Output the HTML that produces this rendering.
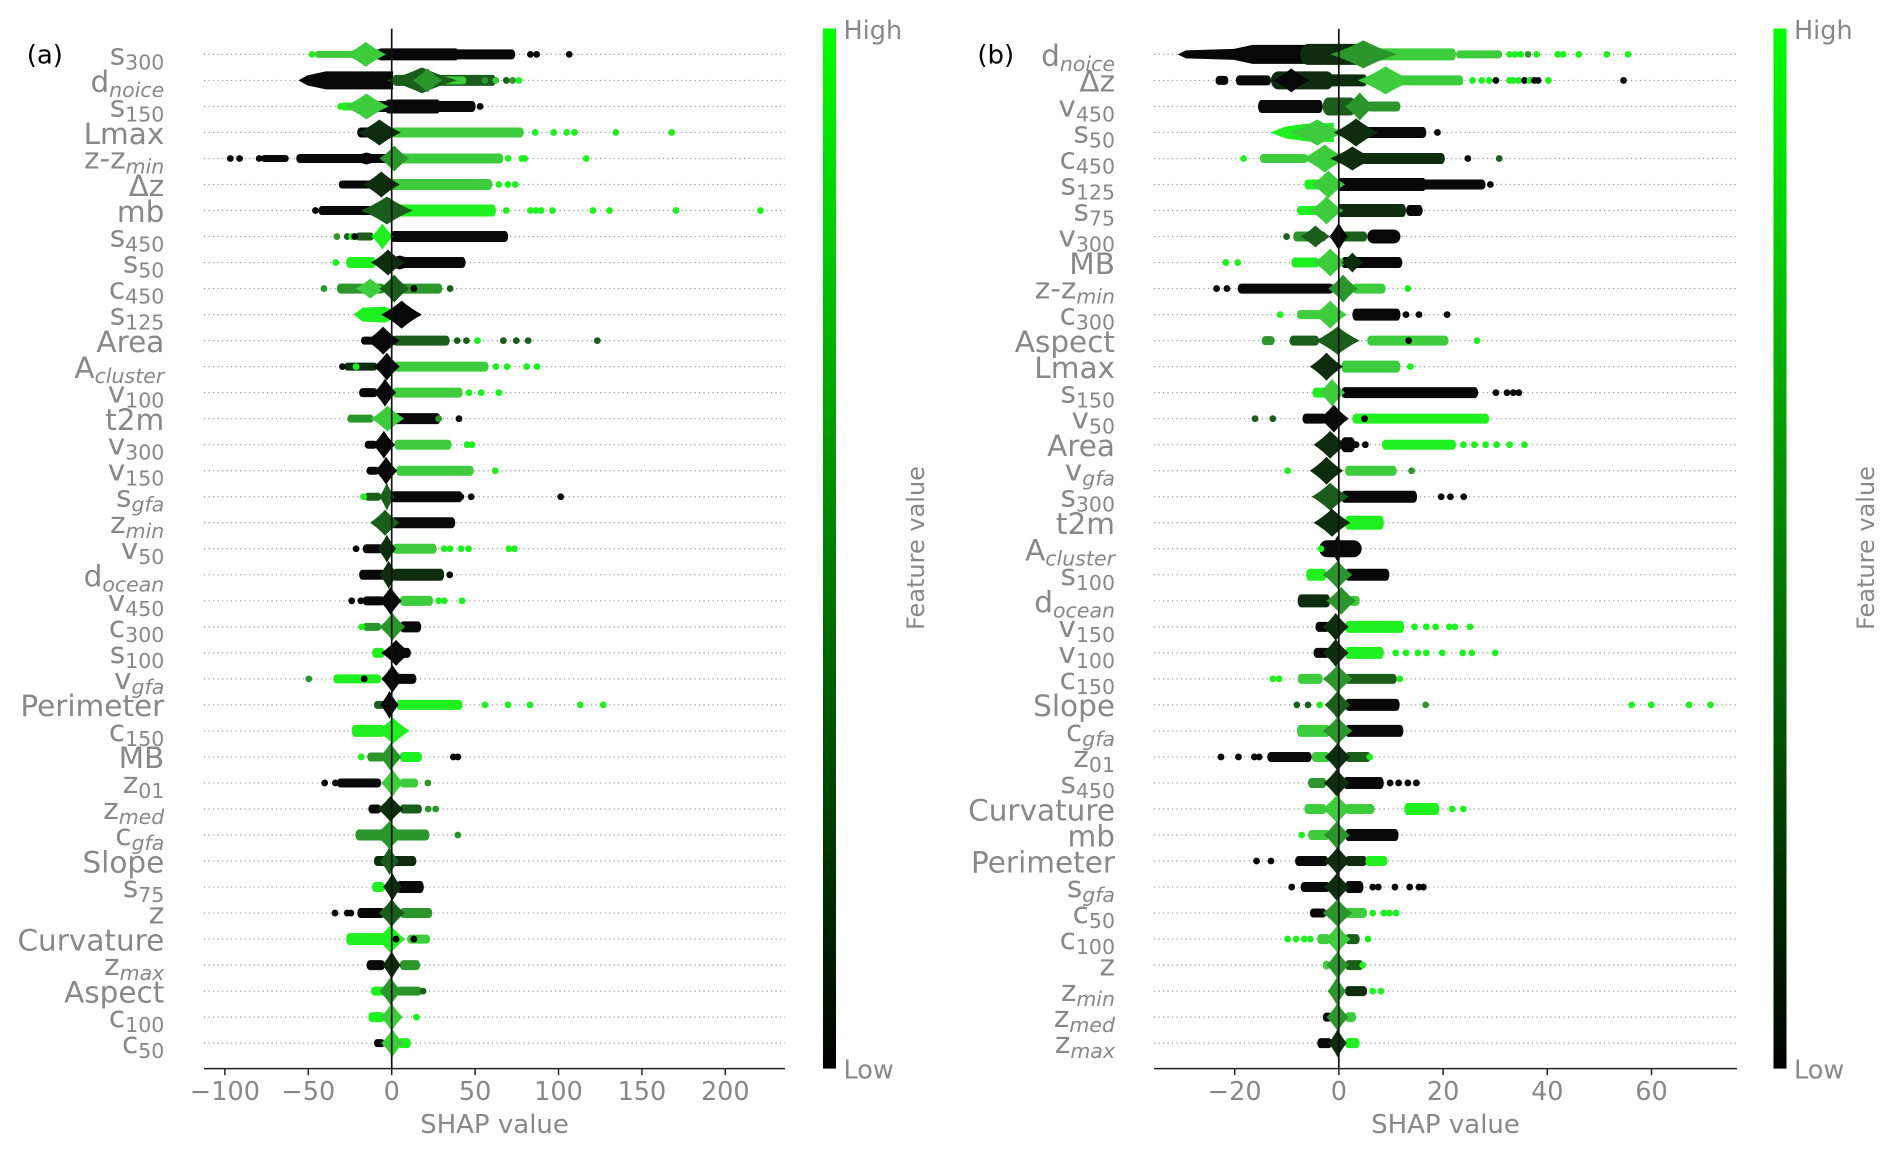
<!DOCTYPE html>
<html><head><meta charset="utf-8"><style>
html,body{margin:0;padding:0;background:#fff;}
body{width:1892px;height:1153px;overflow:hidden;}
svg{display:block;}
.k{fill:#080808}.e{fill:#0e2c0e}.m{fill:#1b5e1b}.n{fill:#2b962b}.g{fill:#3ccc3c}.l{fill:#1ff01f}
.lb{font-family:"DejaVu Sans","Liberation Sans",sans-serif;font-size:29.5px;fill:#888}
.sb{font-size:20.5px}.si{font-size:20.5px;font-style:italic}
.tk{font-family:"DejaVu Sans","Liberation Sans",sans-serif;font-size:25.5px;fill:#888}
.ab{font-family:"DejaVu Sans","Liberation Sans",sans-serif;font-size:26px;fill:#888}
.pl{font-family:"DejaVu Sans","Liberation Sans",sans-serif;font-size:26px;fill:#000}
</style></head><body>
<svg width="1892" height="1153" viewBox="0 0 1892 1153">
<defs>
<ellipse id="d" rx="9.2" ry="3.4"/>
<path id="s" d="M-1 0Q-.44-.44 0-1Q.44-.44 1 0Q.44 .44 0 1Q-.44 .44-1 0Z"/>
<linearGradient id="cb" x1="0" y1="1" x2="0" y2="0">
<stop offset="0" stop-color="#000"/><stop offset="1" stop-color="#00ff00"/>
</linearGradient>
</defs>

<!-- dotted grid -->
<path fill="none" stroke="#999" stroke-width="1.2" stroke-dasharray="1.2 3.3" d="M204 54.4H785M204 80.42H785M204 106.44H785M204 132.46H785M204 158.48H785M204 184.5H785M204 210.52H785M204 236.54H785M204 262.56H785M204 288.58H785M204 314.6H785M204 340.62H785M204 366.64H785M204 392.66H785M204 418.68H785M204 444.7H785M204 470.72H785M204 496.74H785M204 522.76H785M204 548.78H785M204 574.8H785M204 600.82H785M204 626.84H785M204 652.86H785M204 678.88H785M204 704.9H785M204 730.92H785M204 756.94H785M204 782.96H785M204 808.98H785M204 835H785M204 861.02H785M204 887.04H785M204 913.06H785M204 939.08H785M204 965.1H785M204 991.12H785M204 1017.14H785M204 1043.16H785
M1154 54.4H1737M1154 80.42H1737M1154 106.44H1737M1154 132.46H1737M1154 158.48H1737M1154 184.5H1737M1154 210.52H1737M1154 236.54H1737M1154 262.56H1737M1154 288.58H1737M1154 314.6H1737M1154 340.62H1737M1154 366.64H1737M1154 392.66H1737M1154 418.68H1737M1154 444.7H1737M1154 470.72H1737M1154 496.74H1737M1154 522.76H1737M1154 548.78H1737M1154 574.8H1737M1154 600.82H1737M1154 626.84H1737M1154 652.86H1737M1154 678.88H1737M1154 704.9H1737M1154 730.92H1737M1154 756.94H1737M1154 782.96H1737M1154 808.98H1737M1154 835H1737M1154 861.02H1737M1154 887.04H1737M1154 913.06H1737M1154 939.08H1737M1154 965.1H1737M1154 991.12H1737M1154 1017.14H1737M1154 1043.16H1737"/>

<!-- ===== Panel (a) swarms ===== -->
<g transform="translate(200 0) scale(0.36996 1)">
<g transform="translate(0 54.4)">
<rect x="310" y="-3.5" width="110" height="7" rx="9" ry="3.5" class="g"/>
<rect x="470" y="-5" width="382" height="10" rx="9" ry="5" class="k"/>
<rect x="480" y="-6" width="220" height="12" rx="9" ry="6" class="k"/>
<use href="#s" transform="translate(448 0) scale(55 12.5)" class="g"/>
<use href="#d" x="303" class="l"/><use href="#d" x="893" class="k"/><use href="#d" x="910" class="k"/><use href="#d" x="998" class="k"/>
</g>
<g transform="translate(0 80.42)">
<path d="M266 0L290-5L340-9L522-9L522 9L340 9L290 5Z" class="k"/>
<rect x="520" y="-5.5" width="280" height="11" rx="9" ry="5.5" class="m"/>
<rect x="650" y="-4" width="70" height="8" rx="9" ry="4" class="g"/>
<use href="#s" transform="translate(600 0) scale(95 13)" class="m"/>
<use href="#s" transform="translate(615 0) scale(40 12)" class="n"/>
<use href="#d" x="770" class="n"/><use href="#d" x="800" class="g"/><use href="#d" x="828" class="m"/><use href="#d" x="845" class="n"/><use href="#d" x="862" class="l"/>
</g>
<g transform="translate(0 106.44)">
<rect x="380" y="-4" width="50" height="8" rx="9" ry="4" class="l"/>
<rect x="470" y="-5.5" width="275" height="11" rx="9" ry="5.5" class="k"/>
<rect x="500" y="-7" width="150" height="14" rx="9" ry="7" class="k"/>
<use href="#s" transform="translate(450 0) scale(60 13)" class="g"/>
<use href="#d" x="380" class="l"/><use href="#d" x="757" class="k"/>
</g>
<g transform="translate(0 132.46)">
<rect x="425" y="-5" width="55" height="10" rx="9" ry="5" class="k"/>
<rect x="515" y="-5" width="360" height="10" rx="9" ry="5" class="g"/>
<use href="#s" transform="translate(485 0) scale(58 13)" class="e"/>
<use href="#d" x="906" class="l"/><use href="#d" x="956" class="l"/><use href="#d" x="991" class="l"/><use href="#d" x="1012" class="l"/><use href="#d" x="1124" class="l"/><use href="#d" x="1275" class="l"/>
</g>
<g transform="translate(0 158.48)">
<rect x="165" y="-3.5" width="75" height="7" rx="9" ry="3.5" class="k"/>
<rect x="260" y="-4.5" width="250" height="9" rx="9" ry="4.5" class="k"/>
<rect x="530" y="-5" width="290" height="10" rx="9" ry="5" class="g"/>
<use href="#s" transform="translate(450 0) scale(70 6)" class="k"/>
<use href="#s" transform="translate(525 0) scale(40 13)" class="n"/>
<use href="#d" x="82" class="k"/><use href="#d" x="107" class="k"/><use href="#d" x="160" class="k"/><use href="#d" x="833" class="l"/><use href="#d" x="870" class="l"/><use href="#d" x="878" class="l"/><use href="#d" x="1044" class="l"/>
</g>
<g transform="translate(0 184.5)">
<rect x="375" y="-4" width="95" height="8" rx="9" ry="4" class="k"/>
<rect x="515" y="-5.5" width="275" height="11" rx="9" ry="5.5" class="g"/>
<use href="#s" transform="translate(490 0) scale(50 13)" class="e"/>
<use href="#d" x="808" class="l"/><use href="#d" x="832" class="l"/><use href="#d" x="852" class="l"/>
</g>
<g transform="translate(0 210.52)">
<rect x="320" y="-4.5" width="150" height="9" rx="9" ry="4.5" class="k"/>
<rect x="530" y="-6" width="270" height="12" rx="9" ry="6" class="l"/>
<use href="#s" transform="translate(505 0) scale(70 14)" class="m"/>
<use href="#d" x="312" class="k"/><use href="#d" x="828" class="l"/><use href="#d" x="893" class="l"/><use href="#d" x="908" class="l"/><use href="#d" x="922" class="l"/><use href="#d" x="953" class="l"/><use href="#d" x="1062" class="l"/><use href="#d" x="1107" class="l"/><use href="#d" x="1287" class="l"/><use href="#d" x="1515" class="l"/>
</g>
<g transform="translate(0 236.54)">
<rect x="420" y="-4" width="50" height="8" rx="9" ry="4" class="m"/>
<rect x="515" y="-5.5" width="318" height="11" rx="9" ry="5.5" class="k"/>
<use href="#s" transform="translate(493 0) scale(30 13)" class="l"/>
<use href="#d" x="370" class="n"/><use href="#d" x="398" class="m"/><use href="#d" x="410" class="l"/><use href="#d" x="418" class="k"/>
</g>
<g transform="translate(0 262.56)">
<rect x="395" y="-5.5" width="80" height="11" rx="9" ry="5.5" class="l"/>
<rect x="515" y="-5.5" width="203" height="11" rx="9" ry="5.5" class="k"/>
<use href="#s" transform="translate(540 0) scale(80 7)" class="k"/>
<use href="#s" transform="translate(508 0) scale(45 13)" class="e"/>
<use href="#d" x="367" class="l"/>
</g>
<g transform="translate(0 288.58)">
<rect x="370" y="-5" width="130" height="10" rx="9" ry="5" class="n"/>
<rect x="540" y="-5" width="115" height="10" rx="9" ry="5" class="n"/>
<use href="#s" transform="translate(460 0) scale(40 10)" class="g"/>
<use href="#s" transform="translate(525 0) scale(40 14)" class="m"/>
<use href="#d" x="335" class="n"/><use href="#d" x="578" class="k"/><use href="#d" x="676" class="m"/>
</g>
<g transform="translate(0 314.6)">
<path d="M415 0L440-7L500-8L518-5L518 5L500 8L440 7Z" class="l"/>
<use href="#s" transform="translate(545 0) scale(55 14)" class="k"/>
</g>
<g transform="translate(0 340.62)">
<rect x="435" y="-4" width="45" height="8" rx="9" ry="4" class="k"/>
<rect x="520" y="-5" width="155" height="10" rx="9" ry="5" class="m"/>
<use href="#s" transform="translate(495 0) scale(45 14)" class="k"/>
<use href="#d" x="695" class="m"/><use href="#d" x="720" class="m"/><use href="#d" x="750" class="l"/><use href="#d" x="820" class="m"/><use href="#d" x="855" class="m"/><use href="#d" x="887" class="m"/><use href="#d" x="1074" class="m"/>
</g>
<g transform="translate(0 366.64)">
<rect x="390" y="-4" width="90" height="8" rx="9" ry="4" class="e"/>
<rect x="520" y="-5" width="260" height="10" rx="9" ry="5" class="g"/>
<use href="#s" transform="translate(505 0) scale(35 14)" class="k"/>
<use href="#d" x="385" class="k"/><use href="#d" x="422" class="l"/><use href="#d" x="800" class="l"/><use href="#d" x="830" class="l"/><use href="#d" x="883" class="l"/><use href="#d" x="911" class="l"/>
</g>
<g transform="translate(0 392.66)">
<rect x="430" y="-4.5" width="50" height="9" rx="9" ry="4.5" class="k"/>
<rect x="520" y="-5" width="190" height="10" rx="9" ry="5" class="g"/>
<use href="#s" transform="translate(500 0) scale(30 14)" class="k"/>
<use href="#d" x="727" class="l"/><use href="#d" x="760" class="l"/><use href="#d" x="808" class="l"/>
</g>
<g transform="translate(0 418.68)">
<rect x="398" y="-4" width="72" height="8" rx="9" ry="4" class="n"/>
<rect x="520" y="-5.5" width="130" height="11" rx="9" ry="5.5" class="k"/>
<use href="#s" transform="translate(507 0) scale(45 13)" class="g"/>
<use href="#d" x="645" class="n"/><use href="#d" x="700" class="k"/>
</g>
<g transform="translate(0 444.7)">
<rect x="445" y="-4" width="35" height="8" rx="9" ry="4" class="k"/>
<rect x="525" y="-5" width="155" height="10" rx="9" ry="5" class="g"/>
<use href="#s" transform="translate(497 0) scale(30 14)" class="k"/>
<use href="#d" x="722" class="l"/><use href="#d" x="735" class="l"/>
</g>
<g transform="translate(0 470.72)">
<rect x="450" y="-4" width="35" height="8" rx="9" ry="4" class="k"/>
<rect x="530" y="-5" width="210" height="10" rx="9" ry="5" class="g"/>
<use href="#s" transform="translate(503 0) scale(30 14)" class="k"/>
<use href="#d" x="798" class="l"/>
</g>
<g transform="translate(0 496.74)">
<rect x="445" y="-4" width="45" height="8" rx="9" ry="4" class="m"/>
<rect x="515" y="-5.5" width="195" height="11" rx="9" ry="5.5" class="k"/>
<use href="#s" transform="translate(505 0) scale(20 14)" class="m"/>
<use href="#d" x="442" class="l"/><use href="#d" x="692" class="k"/><use href="#d" x="705" class="k"/><use href="#d" x="733" class="k"/><use href="#d" x="975" class="k"/>
</g>
<g transform="translate(0 522.76)">
<rect x="515" y="-5.5" width="175" height="11" rx="9" ry="5.5" class="k"/>
<use href="#s" transform="translate(500 0) scale(40 13)" class="m"/>
</g>
<g transform="translate(0 548.78)">
<rect x="440" y="-4.5" width="55" height="9" rx="9" ry="4.5" class="k"/>
<rect x="520" y="-5" width="120" height="10" rx="9" ry="5" class="g"/>
<use href="#s" transform="translate(505 0) scale(25 14)" class="e"/>
<use href="#d" x="422" class="k"/><use href="#d" x="660" class="l"/><use href="#d" x="676" class="l"/><use href="#d" x="706" class="l"/><use href="#d" x="726" class="l"/><use href="#d" x="835" class="l"/><use href="#d" x="850" class="l"/>
</g>
<g transform="translate(0 574.8)">
<rect x="430" y="-5" width="70" height="10" rx="9" ry="5" class="k"/>
<rect x="520" y="-6" width="140" height="12" rx="9" ry="6" class="e"/>
<use href="#s" transform="translate(510 0) scale(25 14)" class="e"/>
<use href="#d" x="675" class="k"/>
</g>
<g transform="translate(0 600.82)">
<rect x="440" y="-4.5" width="60" height="9" rx="9" ry="4.5" class="k"/>
<rect x="540" y="-5" width="90" height="10" rx="9" ry="5" class="g"/>
<use href="#s" transform="translate(515 0) scale(30 14)" class="k"/>
<use href="#d" x="410" class="k"/><use href="#d" x="435" class="k"/><use href="#d" x="645" class="l"/><use href="#d" x="660" class="l"/><use href="#d" x="708" class="l"/>
</g>
<g transform="translate(0 626.84)">
<rect x="440" y="-4" width="50" height="8" rx="9" ry="4" class="n"/>
<rect x="540" y="-5.5" width="58" height="11" rx="9" ry="5.5" class="k"/>
<use href="#s" transform="translate(520 0) scale(35 14)" class="n"/>
<use href="#d" x="437" class="l"/>
</g>
<g transform="translate(0 652.86)">
<rect x="465" y="-5" width="35" height="10" rx="9" ry="5" class="l"/>
<rect x="540" y="-5" width="30" height="10" rx="9" ry="5" class="k"/>
<use href="#s" transform="translate(530 0) scale(40 13)" class="k"/>
</g>
<g transform="translate(0 678.88)">
<rect x="360" y="-4.5" width="130" height="9" rx="9" ry="4.5" class="l"/>
<rect x="530" y="-5" width="55" height="10" rx="9" ry="5" class="k"/>
<use href="#s" transform="translate(520 0) scale(30 14)" class="k"/>
<use href="#d" x="294" class="n"/><use href="#d" x="444" class="k"/>
</g>
<g transform="translate(0 704.9)">
<rect x="470" y="-4" width="30" height="8" rx="9" ry="4" class="m"/>
<rect x="530" y="-5" width="180" height="10" rx="9" ry="5" class="l"/>
<use href="#s" transform="translate(512 0) scale(25 14)" class="k"/>
<use href="#d" x="770" class="l"/><use href="#d" x="833" class="l"/><use href="#d" x="892" class="l"/><use href="#d" x="1028" class="l"/><use href="#d" x="1090" class="l"/>
</g>
<g transform="translate(0 730.92)">
<rect x="410" y="-6" width="90" height="12" rx="9" ry="6" class="l"/>
<use href="#s" transform="translate(522 0) scale(45 13)" class="l"/>
</g>
<g transform="translate(0 756.94)">
<rect x="452" y="-4.5" width="48" height="9" rx="9" ry="4.5" class="n"/>
<rect x="540" y="-5" width="60" height="10" rx="9" ry="5" class="l"/>
<use href="#s" transform="translate(515 0) scale(30 14)" class="n"/>
<use href="#d" x="436" class="l"/><use href="#d" x="685" class="k"/><use href="#d" x="697" class="k"/>
</g>
<g transform="translate(0 782.96)">
<rect x="370" y="-4.5" width="120" height="9" rx="9" ry="4.5" class="k"/>
<rect x="540" y="-4.5" width="50" height="9" rx="9" ry="4.5" class="g"/>
<use href="#s" transform="translate(520 0) scale(30 14)" class="g"/>
<use href="#d" x="337" class="k"/><use href="#d" x="366" class="k"/><use href="#d" x="616" class="n"/>
</g>
<g transform="translate(0 808.98)">
<rect x="455" y="-4.5" width="35" height="9" rx="9" ry="4.5" class="k"/>
<rect x="540" y="-4.5" width="60" height="9" rx="9" ry="4.5" class="m"/>
<use href="#s" transform="translate(515 0) scale(35 13)" class="e"/>
<use href="#d" x="617" class="n"/><use href="#d" x="637" class="n"/>
</g>
<g transform="translate(0 835)">
<rect x="420" y="-5.5" width="200" height="11" rx="9" ry="5.5" class="n"/>
<use href="#s" transform="translate(512 0) scale(40 14)" class="n"/>
<use href="#d" x="697" class="n"/>
</g>
<g transform="translate(0 861.02)">
<rect x="470" y="-5" width="115" height="10" rx="9" ry="5" class="e"/>
<use href="#s" transform="translate(512 0) scale(25 14)" class="m"/>
</g>
<g transform="translate(0 887.04)">
<rect x="465" y="-5" width="35" height="10" rx="9" ry="5" class="l"/>
<rect x="530" y="-6" width="75" height="12" rx="9" ry="6" class="k"/>
<use href="#s" transform="translate(520 0) scale(25 14)" class="e"/>
</g>
<g transform="translate(0 913.06)">
<rect x="425" y="-5" width="75" height="10" rx="9" ry="5" class="k"/>
<rect x="540" y="-5" width="88" height="10" rx="9" ry="5" class="n"/>
<use href="#s" transform="translate(518 0) scale(35 14)" class="m"/>
<use href="#d" x="365" class="k"/><use href="#d" x="398" class="k"/><use href="#d" x="408" class="k"/>
</g>
<g transform="translate(0 939.08)">
<rect x="395" y="-6" width="105" height="12" rx="9" ry="6" class="l"/>
<rect x="560" y="-4.5" width="62" height="9" rx="9" ry="4.5" class="g"/>
<use href="#s" transform="translate(515 0) scale(40 14)" class="l"/>
<use href="#d" x="530" class="k"/><use href="#d" x="578" class="k"/>
</g>
<g transform="translate(0 965.1)">
<rect x="450" y="-5" width="50" height="10" rx="9" ry="5" class="k"/>
<rect x="540" y="-5" width="55" height="10" rx="9" ry="5" class="n"/>
<use href="#s" transform="translate(518 0) scale(25 14)" class="e"/>
</g>
<g transform="translate(0 991.12)">
<rect x="462" y="-4.5" width="38" height="9" rx="9" ry="4.5" class="l"/>
<rect x="530" y="-4.5" width="70" height="9" rx="9" ry="4.5" class="n"/>
<use href="#s" transform="translate(515 0) scale(30 14)" class="n"/>
<use href="#d" x="603" class="m"/>
</g>
<g transform="translate(0 1017.14)">
<rect x="455" y="-5" width="45" height="10" rx="9" ry="5" class="l"/>
<use href="#s" transform="translate(518 0) scale(30 14)" class="g"/>
<use href="#d" x="585" class="l"/>
</g>
<g transform="translate(0 1043.16)">
<rect x="470" y="-4" width="30" height="8" rx="9" ry="4" class="k"/>
<rect x="535" y="-5" width="35" height="10" rx="9" ry="5" class="l"/>
<use href="#s" transform="translate(520 0) scale(30 14)" class="g"/>
</g>
</g>

<!-- ===== Panel (b) swarms ===== -->
<g transform="translate(1160 0) scale(0.36996 1)">
<g transform="translate(0 54.4)">
<path d="M48 0L70-4L200-5.5L250-9.5L485-9.5L485 9.5L250 9.5L200 5.5L70 4Z" class="k"/>
<rect x="380" y="-10.5" width="180" height="21" rx="20" ry="10.5" class="e"/>
<rect x="560" y="-6" width="240" height="12" rx="9" ry="6" class="g"/>
<rect x="800" y="-4" width="125" height="8" rx="9" ry="4" class="g"/>
<use href="#s" transform="translate(550 0) scale(90 14)" class="n"/>
<use href="#d" x="945" class="l"/><use href="#d" x="960" class="l"/><use href="#d" x="975" class="l"/><use href="#d" x="995" class="n"/><use href="#d" x="1018" class="l"/><use href="#d" x="1075" class="l"/><use href="#d" x="1090" class="l"/><use href="#d" x="1132" class="l"/><use href="#d" x="1208" class="l"/><use href="#d" x="1265" class="l"/>
</g>
<g transform="translate(0 80.42)">
<rect x="150" y="-4.5" width="35" height="9" rx="9" ry="4.5" class="k"/>
<rect x="205" y="-5" width="95" height="10" rx="9" ry="5" class="k"/>
<rect x="300" y="-6" width="260" height="12" rx="9" ry="6" class="e"/>
<rect x="300" y="-9" width="170" height="18" rx="20" ry="9" class="e"/>
<use href="#s" transform="translate(355 0) scale(50 12)" class="k"/>
<rect x="640" y="-5" width="180" height="10" rx="9" ry="5" class="g"/>
<use href="#s" transform="translate(610 0) scale(75 14)" class="g"/>
<use href="#d" x="845" class="l"/><use href="#d" x="870" class="l"/><use href="#d" x="890" class="l"/><use href="#d" x="908" class="k"/><use href="#d" x="945" class="l"/><use href="#d" x="955" class="l"/><use href="#d" x="968" class="l"/><use href="#d" x="985" class="k"/><use href="#d" x="1000" class="l"/><use href="#d" x="1012" class="k"/><use href="#d" x="1022" class="k"/><use href="#d" x="1050" class="l"/><use href="#d" x="1253" class="k"/>
</g>
<g transform="translate(0 106.44)">
<rect x="265" y="-6.5" width="175" height="13" rx="9" ry="6.5" class="k"/>
<rect x="560" y="-5" width="90" height="10" rx="9" ry="5" class="n"/>
<rect x="440" y="-9" width="90" height="18" rx="15" ry="9" class="m"/>
<use href="#s" transform="translate(540 0) scale(40 14)" class="n"/>
</g>
<g transform="translate(0 132.46)">
<rect x="540" y="-5.5" width="180" height="11" rx="9" ry="5.5" class="k"/>
<path d="M298 0L340-6L400-9L470-9.5L470 9.5L400 9L340 6Z" class="l"/>
<use href="#s" transform="translate(425 0) scale(75 13)" class="g"/>
<use href="#s" transform="translate(530 0) scale(60 14)" class="e"/>
<use href="#d" x="750" class="k"/>
</g>
<g transform="translate(0 158.48)">
<rect x="270" y="-4.5" width="130" height="9" rx="9" ry="4.5" class="g"/>
<rect x="540" y="-5.5" width="230" height="11" rx="9" ry="5.5" class="e"/>
<use href="#s" transform="translate(445 0) scale(60 14)" class="g"/>
<use href="#s" transform="translate(520 0) scale(60 12)" class="e"/>
<use href="#d" x="226" class="l"/><use href="#d" x="832" class="k"/><use href="#d" x="917" class="m"/>
</g>
<g transform="translate(0 184.5)">
<rect x="390" y="-5" width="50" height="10" rx="9" ry="5" class="l"/>
<rect x="480" y="-5" width="400" height="10" rx="9" ry="5" class="k"/>
<rect x="480" y="-6.5" width="240" height="13" rx="9" ry="6.5" class="k"/>
<use href="#s" transform="translate(455 0) scale(45 14)" class="g"/>
<use href="#d" x="893" class="k"/>
</g>
<g transform="translate(0 210.52)">
<rect x="370" y="-4.5" width="60" height="9" rx="9" ry="4.5" class="l"/>
<rect x="480" y="-6.5" width="185" height="13" rx="9" ry="6.5" class="e"/>
<rect x="665" y="-5.5" width="45" height="11" rx="9" ry="5.5" class="k"/>
<use href="#s" transform="translate(450 0) scale(45 14)" class="g"/>
</g>
<g transform="translate(0 236.54)">
<rect x="360" y="-5" width="90" height="10" rx="9" ry="5" class="n"/>
<rect x="490" y="-5" width="70" height="10" rx="9" ry="5" class="m"/>
<rect x="560" y="-7" width="90" height="14" rx="18" ry="7" class="k"/>
<use href="#s" transform="translate(420 0) scale(40 11)" class="m"/>
<use href="#s" transform="translate(483 0) scale(25 14)" class="k"/>
<use href="#d" x="342" class="m"/>
</g>
<g transform="translate(0 262.56)">
<rect x="355" y="-5" width="75" height="10" rx="9" ry="5" class="l"/>
<rect x="490" y="-5.5" width="165" height="11" rx="9" ry="5.5" class="k"/>
<use href="#s" transform="translate(460 0) scale(45 14)" class="g"/>
<use href="#s" transform="translate(520 0) scale(30 10)" class="e"/>
<use href="#d" x="178" class="l"/><use href="#d" x="210" class="l"/>
</g>
<g transform="translate(0 288.58)">
<rect x="210" y="-5" width="260" height="10" rx="9" ry="5" class="k"/>
<rect x="520" y="-5" width="90" height="10" rx="9" ry="5" class="g"/>
<use href="#s" transform="translate(495 0) scale(40 14)" class="n"/>
<use href="#d" x="153" class="k"/><use href="#d" x="181" class="k"/><use href="#d" x="670" class="l"/>
</g>
<g transform="translate(0 314.6)">
<rect x="370" y="-4.5" width="70" height="9" rx="9" ry="4.5" class="g"/>
<rect x="520" y="-6" width="130" height="12" rx="9" ry="6" class="k"/>
<use href="#s" transform="translate(460 0) scale(45 14)" class="g"/>
<use href="#d" x="325" class="l"/><use href="#d" x="665" class="k"/><use href="#d" x="700" class="k"/><use href="#d" x="776" class="k"/>
</g>
<g transform="translate(0 340.62)">
<rect x="275" y="-4.5" width="35" height="9" rx="9" ry="4.5" class="n"/>
<rect x="350" y="-5" width="80" height="10" rx="9" ry="5" class="m"/>
<rect x="560" y="-5" width="220" height="10" rx="9" ry="5" class="g"/>
<use href="#s" transform="translate(480 0) scale(60 14)" class="m"/>
<use href="#d" x="672" class="k"/><use href="#d" x="857" class="l"/>
</g>
<g transform="translate(0 366.64)">
<rect x="490" y="-6" width="160" height="12" rx="9" ry="6" class="g"/>
<use href="#s" transform="translate(450 0) scale(45 14)" class="e"/>
<use href="#d" x="677" class="l"/>
</g>
<g transform="translate(0 392.66)">
<rect x="412" y="-5" width="48" height="10" rx="9" ry="5" class="l"/>
<rect x="490" y="-5.5" width="370" height="11" rx="9" ry="5.5" class="k"/>
<use href="#s" transform="translate(465 0) scale(35 14)" class="g"/>
<use href="#d" x="908" class="k"/><use href="#d" x="938" class="k"/><use href="#d" x="955" class="k"/><use href="#d" x="970" class="k"/>
</g>
<g transform="translate(0 418.68)">
<rect x="385" y="-5" width="65" height="10" rx="9" ry="5" class="k"/>
<rect x="520" y="-5" width="370" height="10" rx="9" ry="5" class="l"/>
<use href="#s" transform="translate(470 0) scale(40 14)" class="k"/>
<use href="#d" x="257" class="m"/><use href="#d" x="305" class="m"/><use href="#d" x="553" class="k"/>
</g>
<g transform="translate(0 444.7)">
<rect x="600" y="-5" width="200" height="10" rx="9" ry="5" class="l"/>
<use href="#s" transform="translate(460 0) scale(45 14)" class="e"/>
<rect x="488" y="-7.5" width="40" height="15" rx="12" ry="7.5" class="k"/>
<use href="#d" x="530" class="k"/><use href="#d" x="555" class="k"/><use href="#d" x="820" class="l"/><use href="#d" x="850" class="l"/><use href="#d" x="880" class="l"/><use href="#d" x="910" class="l"/><use href="#d" x="945" class="l"/><use href="#d" x="985" class="l"/>
</g>
<g transform="translate(0 470.72)">
<rect x="500" y="-5" width="140" height="10" rx="9" ry="5" class="g"/>
<use href="#s" transform="translate(450 0) scale(45 14)" class="e"/>
<use href="#d" x="345" class="l"/><use href="#d" x="680" class="n"/>
</g>
<g transform="translate(0 496.74)">
<rect x="490" y="-6" width="205" height="12" rx="9" ry="6" class="k"/>
<use href="#s" transform="translate(460 0) scale(50 14)" class="m"/>
<use href="#d" x="760" class="k"/><use href="#d" x="785" class="k"/><use href="#d" x="821" class="k"/>
</g>
<g transform="translate(0 522.76)">
<rect x="500" y="-7" width="105" height="14" rx="9" ry="7" class="l"/>
<use href="#s" transform="translate(465 0) scale(50 14)" class="e"/>
</g>
<g transform="translate(0 548.78)">
<rect x="430" y="-8.5" width="115" height="17" rx="22" ry="8.5" class="k"/>
<use href="#s" transform="translate(480 0) scale(25 13)" class="k"/>
<use href="#d" x="435" class="l"/>
</g>
<g transform="translate(0 574.8)">
<rect x="395" y="-6" width="55" height="12" rx="9" ry="6" class="l"/>
<rect x="500" y="-6" width="120" height="12" rx="9" ry="6" class="k"/>
<use href="#s" transform="translate(480 0) scale(40 14)" class="n"/>
</g>
<g transform="translate(0 600.82)">
<rect x="372" y="-6.5" width="88" height="13" rx="9" ry="6.5" class="e"/>
<rect x="510" y="-5" width="30" height="10" rx="9" ry="5" class="g"/>
<use href="#s" transform="translate(490 0) scale(40 14)" class="n"/>
</g>
<g transform="translate(0 626.84)">
<rect x="420" y="-5" width="40" height="10" rx="9" ry="5" class="k"/>
<rect x="500" y="-6" width="160" height="12" rx="9" ry="6" class="l"/>
<use href="#s" transform="translate(475 0) scale(35 14)" class="e"/>
<use href="#d" x="688" class="l"/><use href="#d" x="720" class="l"/><use href="#d" x="745" class="l"/><use href="#d" x="782" class="l"/><use href="#d" x="797" class="l"/><use href="#d" x="838" class="l"/>
</g>
<g transform="translate(0 652.86)">
<rect x="415" y="-5" width="45" height="10" rx="9" ry="5" class="k"/>
<rect x="500" y="-6" width="105" height="12" rx="9" ry="6" class="l"/>
<use href="#s" transform="translate(475 0) scale(35 14)" class="e"/>
<use href="#d" x="637" class="l"/><use href="#d" x="665" class="l"/><use href="#d" x="697" class="l"/><use href="#d" x="720" class="l"/><use href="#d" x="763" class="l"/><use href="#d" x="818" class="l"/><use href="#d" x="843" class="l"/><use href="#d" x="906" class="l"/>
</g>
<g transform="translate(0 678.88)">
<rect x="372" y="-5" width="68" height="10" rx="9" ry="5" class="g"/>
<rect x="500" y="-5" width="140" height="10" rx="9" ry="5" class="m"/>
<use href="#s" transform="translate(480 0) scale(40 14)" class="n"/>
<use href="#d" x="305" class="l"/><use href="#d" x="322" class="l"/><use href="#d" x="648" class="l"/>
</g>
<g transform="translate(0 704.9)">
<rect x="500" y="-6" width="148" height="12" rx="9" ry="6" class="k"/>
<use href="#s" transform="translate(480 0) scale(35 14)" class="m"/>
<use href="#d" x="370" class="m"/><use href="#d" x="400" class="m"/><use href="#d" x="432" class="l"/><use href="#d" x="718" class="n"/><use href="#d" x="1275" class="l"/><use href="#d" x="1328" class="l"/><use href="#d" x="1430" class="l"/><use href="#d" x="1488" class="l"/>
</g>
<g transform="translate(0 730.92)">
<rect x="370" y="-6" width="90" height="12" rx="9" ry="6" class="g"/>
<rect x="500" y="-6" width="158" height="12" rx="9" ry="6" class="k"/>
<use href="#s" transform="translate(480 0) scale(40 14)" class="n"/>
</g>
<g transform="translate(0 756.94)">
<rect x="290" y="-5" width="120" height="10" rx="9" ry="5" class="k"/>
<rect x="410" y="-5" width="50" height="10" rx="9" ry="5" class="g"/>
<rect x="500" y="-5" width="70" height="10" rx="9" ry="5" class="m"/>
<use href="#s" transform="translate(480 0) scale(35 14)" class="e"/>
<use href="#d" x="165" class="k"/><use href="#d" x="212" class="k"/><use href="#d" x="255" class="k"/><use href="#d" x="268" class="k"/><use href="#d" x="567" class="l"/>
</g>
<g transform="translate(0 782.96)">
<rect x="400" y="-5" width="50" height="10" rx="9" ry="5" class="n"/>
<rect x="495" y="-6" width="110" height="12" rx="9" ry="6" class="k"/>
<use href="#s" transform="translate(478 0) scale(35 14)" class="e"/>
<use href="#d" x="622" class="k"/><use href="#d" x="645" class="k"/><use href="#d" x="670" class="k"/><use href="#d" x="693" class="k"/>
</g>
<g transform="translate(0 808.98)">
<rect x="390" y="-5" width="60" height="10" rx="9" ry="5" class="g"/>
<rect x="500" y="-5" width="80" height="10" rx="9" ry="5" class="g"/>
<rect x="660" y="-6" width="95" height="12" rx="9" ry="6" class="l"/>
<use href="#s" transform="translate(478 0) scale(40 14)" class="g"/>
<use href="#d" x="790" class="l"/><use href="#d" x="820" class="l"/>
</g>
<g transform="translate(0 835)">
<rect x="400" y="-5" width="60" height="10" rx="9" ry="5" class="g"/>
<rect x="500" y="-6" width="145" height="12" rx="9" ry="6" class="k"/>
<use href="#s" transform="translate(478 0) scale(35 14)" class="n"/>
<use href="#d" x="383" class="l"/>
</g>
<g transform="translate(0 861.02)">
<rect x="365" y="-5" width="90" height="10" rx="9" ry="5" class="k"/>
<rect x="500" y="-5" width="60" height="10" rx="9" ry="5" class="e"/>
<rect x="555" y="-5" width="60" height="10" rx="9" ry="5" class="l"/>
<use href="#s" transform="translate(480 0) scale(35 14)" class="e"/>
<use href="#d" x="261" class="k"/><use href="#d" x="300" class="k"/>
</g>
<g transform="translate(0 887.04)">
<rect x="380" y="-5" width="80" height="10" rx="9" ry="5" class="k"/>
<rect x="500" y="-6" width="50" height="12" rx="9" ry="6" class="k"/>
<use href="#s" transform="translate(478 0) scale(35 14)" class="e"/>
<use href="#d" x="356" class="k"/><use href="#d" x="575" class="k"/><use href="#d" x="590" class="k"/><use href="#d" x="635" class="k"/><use href="#d" x="675" class="k"/><use href="#d" x="700" class="k"/><use href="#d" x="712" class="k"/>
</g>
<g transform="translate(0 913.06)">
<rect x="405" y="-4.5" width="45" height="9" rx="9" ry="4.5" class="k"/>
<rect x="500" y="-5" width="60" height="10" rx="9" ry="5" class="g"/>
<use href="#s" transform="translate(480 0) scale(40 14)" class="n"/>
<use href="#d" x="575" class="l"/><use href="#d" x="605" class="l"/><use href="#d" x="620" class="l"/><use href="#d" x="638" class="l"/>
</g>
<g transform="translate(0 939.08)">
<rect x="425" y="-5" width="35" height="10" rx="9" ry="5" class="g"/>
<rect x="500" y="-5" width="40" height="10" rx="9" ry="5" class="m"/>
<use href="#s" transform="translate(480 0) scale(35 14)" class="g"/>
<use href="#d" x="345" class="l"/><use href="#d" x="368" class="l"/><use href="#d" x="390" class="l"/><use href="#d" x="406" class="l"/><use href="#d" x="562" class="l"/>
</g>
<g transform="translate(0 965.1)">
<rect x="440" y="-4.5" width="20" height="9" rx="9" ry="4.5" class="g"/>
<rect x="500" y="-5" width="50" height="10" rx="9" ry="5" class="m"/>
<use href="#s" transform="translate(480 0) scale(30 14)" class="n"/>
<use href="#d" x="548" class="l"/>
</g>
<g transform="translate(0 991.12)">
<rect x="500" y="-5" width="60" height="10" rx="9" ry="5" class="e"/>
<use href="#s" transform="translate(478 0) scale(25 14)" class="n"/>
<use href="#d" x="575" class="l"/><use href="#d" x="597" class="l"/>
</g>
<g transform="translate(0 1017.14)">
<rect x="440" y="-4.5" width="25" height="9" rx="9" ry="4.5" class="k"/>
<rect x="500" y="-5" width="30" height="10" rx="9" ry="5" class="g"/>
<use href="#s" transform="translate(480 0) scale(30 14)" class="n"/>
</g>
<g transform="translate(0 1043.16)">
<rect x="425" y="-5" width="40" height="10" rx="9" ry="5" class="k"/>
<rect x="500" y="-5" width="40" height="10" rx="9" ry="5" class="l"/>
<use href="#s" transform="translate(480 0) scale(25 14)" class="e"/>
</g>
</g>

<!-- zero lines -->
<line x1="391.7" y1="28.7" x2="391.7" y2="1068.6" stroke="#111" stroke-width="1.7"/>
<line x1="1338.8" y1="28.7" x2="1338.8" y2="1068.6" stroke="#111" stroke-width="1.7"/>

<!-- bottom axes -->
<g stroke="#222" stroke-width="1.5">
<line x1="204" y1="1068.6" x2="785" y2="1068.6"/>
<line x1="1154" y1="1068.6" x2="1737" y2="1068.6"/>
<path d="M224.9 1068.6v6.5M308.3 1068.6v6.5M391.7 1068.6v6.5M475.1 1068.6v6.5M558.5 1068.6v6.5M641.9 1068.6v6.5M725.3 1068.6v6.5M1234.7 1068.6v6.5M1338.9 1068.6v6.5M1443.1 1068.6v6.5M1547.3 1068.6v6.5M1651.5 1068.6v6.5" fill="none"/>
</g>
<g class="tk" text-anchor="middle">
<text x="224.9" y="1100">−100</text><text x="308.3" y="1100">−50</text><text x="391.7" y="1100">0</text><text x="475.1" y="1100">50</text><text x="558.5" y="1100">100</text><text x="641.9" y="1100">150</text><text x="725.3" y="1100">200</text>
<text x="1234.7" y="1100">−20</text><text x="1338.9" y="1100">0</text><text x="1443.1" y="1100">20</text><text x="1547.3" y="1100">40</text><text x="1651.5" y="1100">60</text>
</g>
<g class="ab" text-anchor="middle">
<text x="494.5" y="1133">SHAP value</text>
<text x="1445.5" y="1133">SHAP value</text>
</g>

<!-- colorbars -->
<rect x="823" y="28.5" width="13" height="1040.1" fill="url(#cb)"/>
<rect x="1773.5" y="28.5" width="13" height="1040.1" fill="url(#cb)"/>
<g class="tk">
<text x="843.5" y="39">High</text><text x="843.5" y="1078.5">Low</text>
<text x="1794" y="39">High</text><text x="1794" y="1078.5">Low</text>
</g>
<g class="tk" style="font-size:24px" text-anchor="middle">
<text transform="translate(924 548) rotate(-90)">Feature value</text>
<text transform="translate(1874 548) rotate(-90)">Feature value</text>
</g>

<!-- panel letters -->
<text class="pl" x="26.7" y="63.3">(a)</text>
<text class="pl" x="977.4" y="63.3">(b)</text>

<!-- labels panel (a) -->
<g class="lb" text-anchor="end">
<text x="164.3" y="64.4">s<tspan dy="5" class="sb">300</tspan></text>
<text x="164.3" y="91.9">d<tspan dy="5" class="si">noice</tspan></text>
<text x="164.3" y="116.4">s<tspan dy="5" class="sb">150</tspan></text>
<text x="164.3" y="143.8">Lmax</text>
<text x="164.3" y="168.5">z-z<tspan dy="5" class="si">min</tspan></text>
<text x="164.3" y="195.8">Δz</text>
<text x="164.3" y="221.8">mb</text>
<text x="164.3" y="246.5">s<tspan dy="5" class="sb">450</tspan></text>
<text x="164.3" y="272.6">s<tspan dy="5" class="sb">50</tspan></text>
<text x="164.3" y="298.6">c<tspan dy="5" class="sb">450</tspan></text>
<text x="164.3" y="324.6">s<tspan dy="5" class="sb">125</tspan></text>
<text x="164.3" y="351.9">Area</text>
<text x="164.3" y="378.1">A<tspan dy="5" class="si">cluster</tspan></text>
<text x="164.3" y="402.7">v<tspan dy="5" class="sb">100</tspan></text>
<text x="164.3" y="430">t2m</text>
<text x="164.3" y="454.7">v<tspan dy="5" class="sb">300</tspan></text>
<text x="164.3" y="480.7">v<tspan dy="5" class="sb">150</tspan></text>
<text x="164.3" y="506.7">s<tspan dy="5" class="si">gfa</tspan></text>
<text x="164.3" y="532.8">z<tspan dy="5" class="si">min</tspan></text>
<text x="164.3" y="558.8">v<tspan dy="5" class="sb">50</tspan></text>
<text x="164.3" y="586.3">d<tspan dy="5" class="si">ocean</tspan></text>
<text x="164.3" y="610.8">v<tspan dy="5" class="sb">450</tspan></text>
<text x="164.3" y="636.8">c<tspan dy="5" class="sb">300</tspan></text>
<text x="164.3" y="662.9">s<tspan dy="5" class="sb">100</tspan></text>
<text x="164.3" y="688.9">v<tspan dy="5" class="si">gfa</tspan></text>
<text x="164.3" y="716.2">Perimeter</text>
<text x="164.3" y="740.9">c<tspan dy="5" class="sb">150</tspan></text>
<text x="164.3" y="768.2">MB</text>
<text x="164.3" y="793">z<tspan dy="5" class="sb">01</tspan></text>
<text x="164.3" y="819">z<tspan dy="5" class="si">med</tspan></text>
<text x="164.3" y="845">c<tspan dy="5" class="si">gfa</tspan></text>
<text x="164.3" y="872.3">Slope</text>
<text x="164.3" y="897">s<tspan dy="5" class="sb">75</tspan></text>
<text x="164.3" y="923.6">z</text>
<text x="164.3" y="950.4">Curvature</text>
<text x="164.3" y="975.1">z<tspan dy="5" class="si">max</tspan></text>
<text x="164.3" y="1002.4">Aspect</text>
<text x="164.3" y="1027.1">c<tspan dy="5" class="sb">100</tspan></text>
<text x="164.3" y="1053.2">c<tspan dy="5" class="sb">50</tspan></text>
</g>

<!-- labels panel (b) -->
<g class="lb" text-anchor="end">
<text x="1115" y="65.9">d<tspan dy="5" class="si">noice</tspan></text>
<text x="1115" y="91.7">Δz</text>
<text x="1115" y="116.4">v<tspan dy="5" class="sb">450</tspan></text>
<text x="1115" y="142.5">s<tspan dy="5" class="sb">50</tspan></text>
<text x="1115" y="168.5">c<tspan dy="5" class="sb">450</tspan></text>
<text x="1115" y="194.5">s<tspan dy="5" class="sb">125</tspan></text>
<text x="1115" y="220.5">s<tspan dy="5" class="sb">75</tspan></text>
<text x="1115" y="246.5">v<tspan dy="5" class="sb">300</tspan></text>
<text x="1115" y="273.9">MB</text>
<text x="1115" y="298.6">z-z<tspan dy="5" class="si">min</tspan></text>
<text x="1115" y="324.6">c<tspan dy="5" class="sb">300</tspan></text>
<text x="1115" y="351.9">Aspect</text>
<text x="1115" y="377.9">Lmax</text>
<text x="1115" y="402.7">s<tspan dy="5" class="sb">150</tspan></text>
<text x="1115" y="428.7">v<tspan dy="5" class="sb">50</tspan></text>
<text x="1115" y="456">Area</text>
<text x="1115" y="480.7">v<tspan dy="5" class="si">gfa</tspan></text>
<text x="1115" y="506.7">s<tspan dy="5" class="sb">300</tspan></text>
<text x="1115" y="534.1">t2m</text>
<text x="1115" y="560.3">A<tspan dy="5" class="si">cluster</tspan></text>
<text x="1115" y="584.8">s<tspan dy="5" class="sb">100</tspan></text>
<text x="1115" y="612.3">d<tspan dy="5" class="si">ocean</tspan></text>
<text x="1115" y="636.8">v<tspan dy="5" class="sb">150</tspan></text>
<text x="1115" y="662.9">v<tspan dy="5" class="sb">100</tspan></text>
<text x="1115" y="688.9">c<tspan dy="5" class="sb">150</tspan></text>
<text x="1115" y="716.2">Slope</text>
<text x="1115" y="740.9">c<tspan dy="5" class="si">gfa</tspan></text>
<text x="1115" y="767">z<tspan dy="5" class="sb">01</tspan></text>
<text x="1115" y="793">s<tspan dy="5" class="sb">450</tspan></text>
<text x="1115" y="820.3">Curvature</text>
<text x="1115" y="846.3">mb</text>
<text x="1115" y="872.3">Perimeter</text>
<text x="1115" y="897">s<tspan dy="5" class="si">gfa</tspan></text>
<text x="1115" y="923.1">c<tspan dy="5" class="sb">50</tspan></text>
<text x="1115" y="949.1">c<tspan dy="5" class="sb">100</tspan></text>
<text x="1115" y="975.6">z</text>
<text x="1115" y="1001.1">z<tspan dy="5" class="si">min</tspan></text>
<text x="1115" y="1027.1">z<tspan dy="5" class="si">med</tspan></text>
<text x="1115" y="1053.2">z<tspan dy="5" class="si">max</tspan></text>
</g>
</svg>
</body></html>
